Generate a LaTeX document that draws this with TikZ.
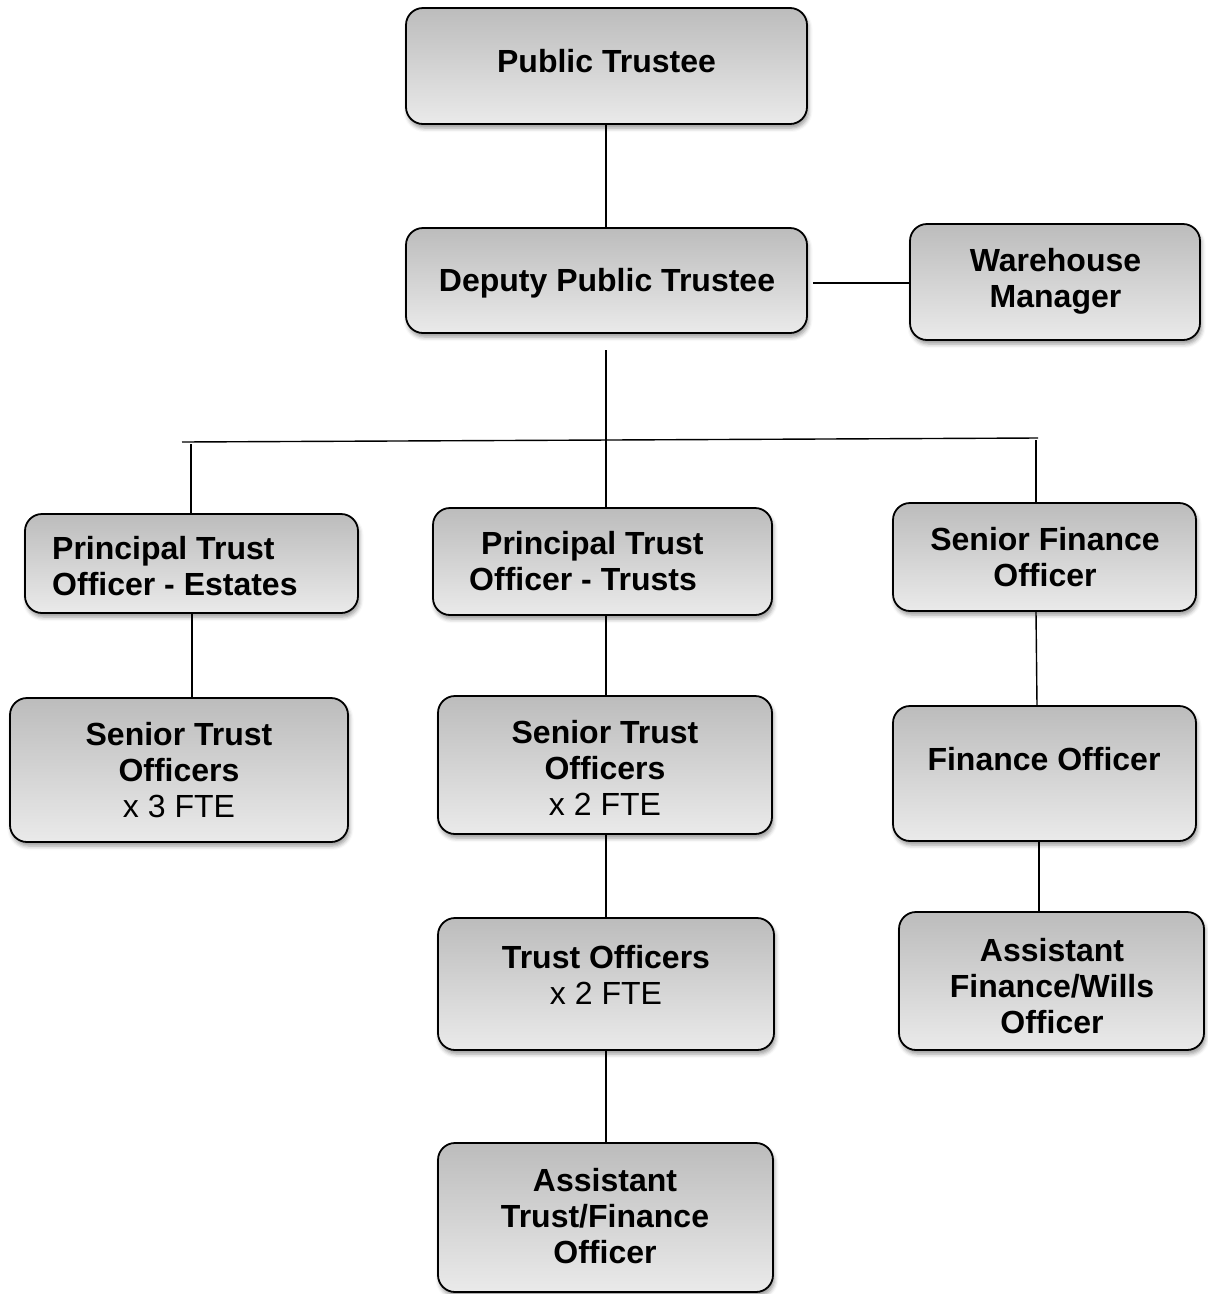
\documentclass[tikz,border=0pt]{standalone}
\usepackage{fontspec}
\setmainfont{Liberation Sans}
\usetikzlibrary{shadows.blur}
\definecolor{boxtop}{RGB}{188,188,188}
\definecolor{boxbot}{RGB}{234,234,234}
\tikzset{
  box/.style={draw=black, line width=1.8pt, rounded corners=17pt,
    top color=boxtop, bottom color=boxbot, inner sep=0pt,
    blur shadow={shadow xshift=1.5pt, shadow yshift=-4pt, shadow blur radius=4pt, shadow opacity=40}},
  lbl/.style={font=\bfseries\fontsize{32}{36}\selectfont, inner sep=0pt, align=center, anchor=base},
  lbll/.style={font=\bfseries\fontsize{32}{36}\selectfont, inner sep=0pt, align=left, anchor=base west},
  conn/.style={draw=black, line width=1.4pt}
}
\begin{document}
\begin{tikzpicture}[x=1pt,y=-1pt]
\useasboundingbox (0,0) rectangle (1208,1294);
% boxes
\node[box, minimum width=401pt, minimum height=116pt] (pt)   at (606.5,66)    {};
\node[box, minimum width=401pt, minimum height=105pt] (dpt)  at (606.5,280.5) {};
\node[box, minimum width=290pt, minimum height=116pt] (wm)   at (1055,282)    {};
\node[box, minimum width=333pt, minimum height=99pt]  (pte)  at (191.5,563.5) {};
\node[box, minimum width=339pt, minimum height=107pt] (ptt)  at (602.5,561.5) {};
\node[box, minimum width=303pt, minimum height=108pt] (sfo)  at (1044.5,557)  {};
\node[box, minimum width=338pt, minimum height=144pt] (sto3) at (179,770)     {};
\node[box, minimum width=334pt, minimum height=138pt] (sto2) at (605,765)     {};
\node[box, minimum width=303pt, minimum height=135pt] (fo)   at (1044.5,773.5){};
\node[box, minimum width=336pt, minimum height=132pt] (to)   at (606,984)     {};
\node[box, minimum width=305pt, minimum height=138pt] (afw)  at (1051.5,981)  {};
\node[box, minimum width=335pt, minimum height=149pt] (atf)  at (605.5,1217.5){};
% labels (anchor base = baseline of the last line)
\node[lbl] (tpt)   at (606.5,72)  {Public Trustee};
\node[lbl] (tdpt)  at (607,291.5) {Deputy Public Trustee};
\node[lbl] (twm)   at (1055.5,307) {Warehouse\\Manager};
\node[lbll] (tpte) at (52,595)    {Principal Trust\\Officer - Estates};
\node[lbll] (tptt) at (469,590)   {\hspace*{12pt}Principal Trust\\Officer - Trusts};
\node[lbl] (tsfo)  at (1045,586)  {Senior Finance\\Officer};
\node[lbl] (tsto3) at (179,817)   {Senior Trust\\Officers\\{\mdseries x 3 FTE}};
\node[lbl] (tsto2) at (605,815)   {Senior Trust\\Officers\\{\mdseries x 2 FTE}};
\node[lbl] (tfo)   at (1044,770)  {Finance Officer};
\node[lbl] (tto)   at (606,1004)  {Trust Officers\\{\mdseries x 2 FTE}};
\node[lbl] (tafw)  at (1052,1033) {Assistant\\Finance/Wills\\Officer};
\node[lbl] (tatf)  at (605,1263)  {Assistant\\Trust/Finance\\Officer};
% connector coordinates
\coordinate (dtop) at (606,350);
\coordinate (hl) at (182,442);
\coordinate (hr) at (1038,438);
\coordinate (lv) at (191,444);
\coordinate (rv) at (1036,440);
% connectors
\draw[conn] (pt.south -| 606,0) -- (dpt.north -| 606,0);
\draw[conn] ([xshift=5pt]dpt.east |- 0,283) -- (wm.west |- 0,283);
\draw[conn] (dtop) -- (dtop |- ptt.north);
\draw[conn] (hl) -- (hr);
\draw[conn] (lv) -- (lv |- pte.north);
\draw[conn] (rv) -- (rv |- sfo.north);
\draw[conn] (pte.south -| 192,0) -- (sto3.north -| 192,0);
\draw[conn] (ptt.south -| 606,0) -- (sto2.north -| 606,0);
\draw[conn] (sto2.south -| 606,0) -- (to.north -| 606,0);
\draw[conn] (to.south -| 606,0) -- (atf.north -| 606,0);
\draw[conn] (sfo.south -| 1036,0) -- (fo.north -| 1037,0);
\draw[conn] (fo.south -| 1039,0) -- (afw.north -| 1039,0);
\end{tikzpicture}
\end{document}
